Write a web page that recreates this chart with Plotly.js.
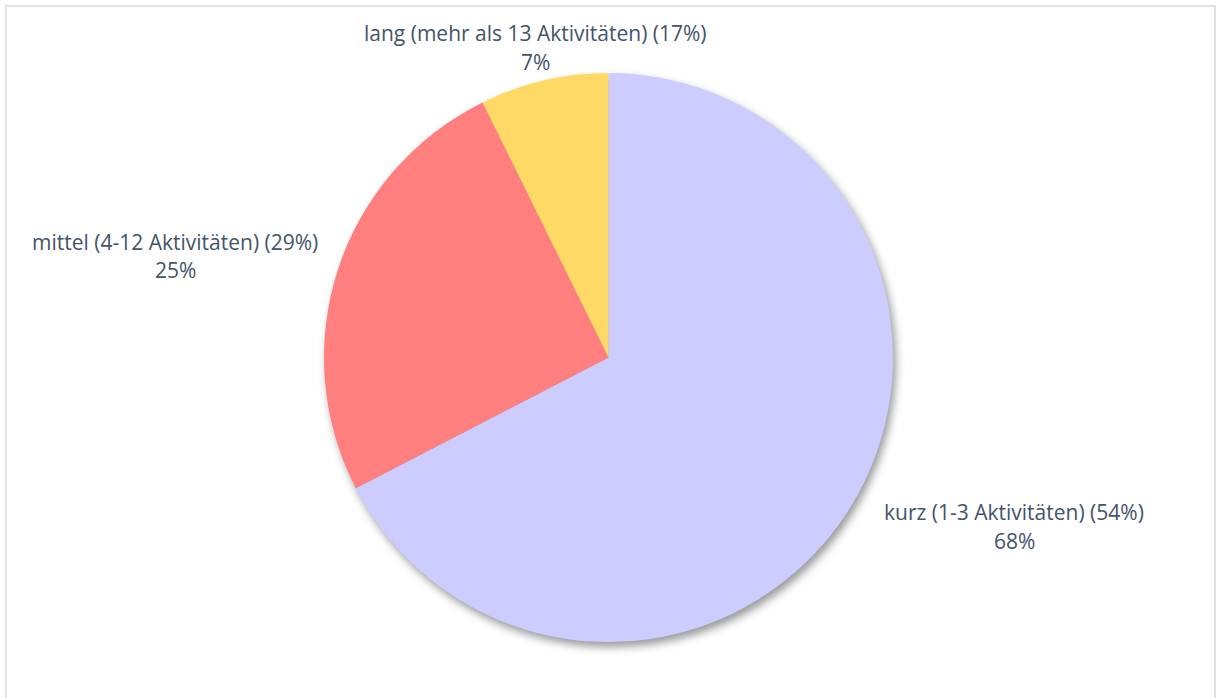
<!DOCTYPE html>
<html>
<head>
<meta charset="utf-8">
<script src="https://cdn.plot.ly/plotly-3.0.1.min.js"></script>
<style>
html,body{margin:0;padding:0;background:#fff;}
#chart{width:1216px;height:698px;}
.pielayer .trace{filter:drop-shadow(3px 5px 4px rgba(0,0,0,0.4));}
</style>
</head>
<body>
<div id="chart"></div>
<script>
var categories = ["kurz (1-3 Aktivitäten) (54%)", "mittel (4-12 Aktivitäten) (29%)", "lang (mehr als 13 Aktivitäten) (17%)"];
var values = [67.4, 25.3, 7.3];
var percentLabels = ["68%", "25%", "7%"];
var colors = ["#CCCCFF", "#FF7F7F", "#FFD966"];
var labelX = [0.834, 0.144, 0.440];
var labelY1 = [0.2665, 0.6533, 0.9527];
var labelY2 = [0.2249, 0.6132, 0.9112];

var trace = {
  type: "pie",
  labels: categories,
  values: values,
  sort: false,
  direction: "clockwise",
  rotation: 0,
  marker: {colors: colors, line: {width: 0}},
  textinfo: "none",
  hoverinfo: "label+percent",
  domain: {x: [324/1216, 893/1216], y: [56/698, 625/698]},
  showlegend: false
};

var font = {family: "'Open Sans', sans-serif", size: 21, color: "#44546A"};
var annotations = [];
categories.forEach(function(c, i){
  annotations.push({xref: "paper", yref: "paper", x: labelX[i], y: labelY1[i],
    xanchor: "center", yanchor: "middle", text: c, showarrow: false, font: font});
  annotations.push({xref: "paper", yref: "paper", x: labelX[i], y: labelY2[i],
    xanchor: "center", yanchor: "middle", text: percentLabels[i], showarrow: false, font: font});
});

var layout = {
  width: 1216, height: 698,
  margin: {l:0, r:0, t:0, b:0},
  paper_bgcolor: "#ffffff",
  annotations: annotations,
  shapes: [{
    type: "rect", xref: "paper", yref: "paper",
    x0: 6/1216, x1: 1215/1216, y0: -0.01, y1: 1 - 6/698,
    line: {color: "#DFE2E7", width: 2}
  }]
};

Plotly.newPlot("chart", [trace], layout, {displayModeBar: false, staticPlot: true});
</script>
</body>
</html>
